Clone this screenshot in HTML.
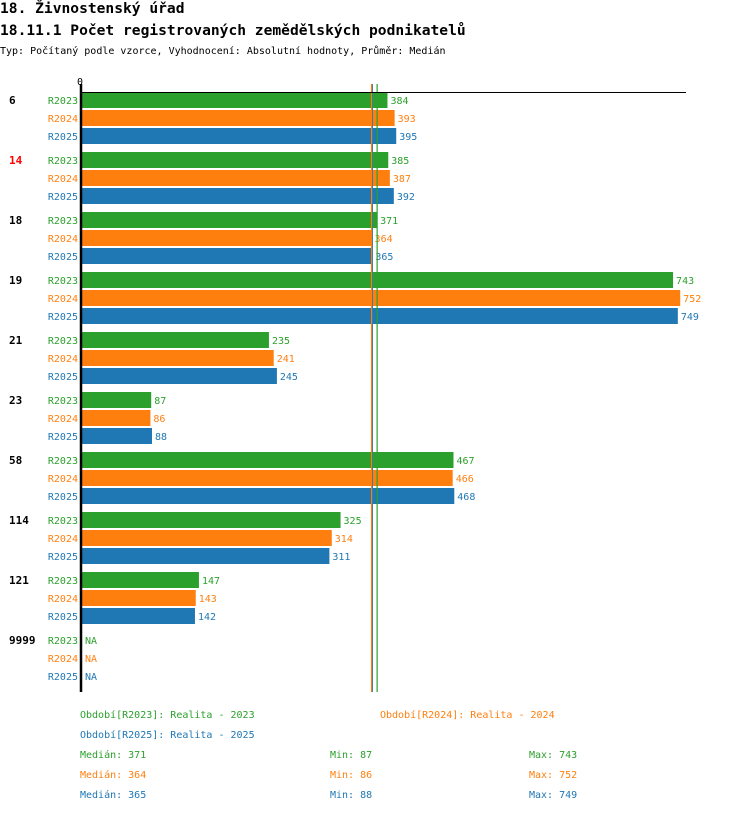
<!DOCTYPE html>
<html><head><meta charset="utf-8"><style>
body{margin:0;background:#fff;width:750px;height:812px;overflow:hidden;font-family:"Liberation Mono","DejaVu Sans Mono",monospace;}
svg text{font-family:"DejaVu Sans Mono","Liberation Mono",monospace;}
</style></head><body>
<svg id="chart" width="750" height="812" xmlns="http://www.w3.org/2000/svg">
<text x="0" y="13" font-size="14.6" font-weight="bold" fill="#000">18. Živnostenský úřad</text>
<text x="0" y="35" font-size="14.6" font-weight="bold" fill="#000">18.11.1 Počet registrovaných zemědělských podnikatelů</text>
<text x="0" y="54" font-size="10" fill="#000">Typ: Počítaný podle vzorce, Vyhodnocení: Absolutní hodnoty, Průměr: Medián</text>
<g id="plot"></g>
</svg>
<script>
const categories = ["6","14","18","19","21","23","58","114","121","9999"];
const highlighted = ["14"];
const seriesNames = ["R2023","R2024","R2025"];
const values2023 = [384,385,371,743,235,87,467,325,147,null];
const values2024 = [393,387,364,752,241,86,466,314,143,null];
const values2025 = [395,392,365,749,245,88,468,311,142,null];
const medians = [371,364,365];
const mins = [87,86,88];
const maxs = [743,752,749];
const colors = ["#2ca02c","#ff7f0e","#1f77b4"];
const series = [values2023, values2024, values2025];

const NS="http://www.w3.org/2000/svg";
const g=document.getElementById('plot');
const x0=82, scale=0.7955, top0=92, groupH=60, rowH=18, barH=16;
const xs=v=>x0+v*scale;
function mk(tag,attrs,text){const e=document.createElementNS(NS,tag);for(const k in attrs)e.setAttribute(k,attrs[k]);if(text!==undefined)e.textContent=text;g.appendChild(e);return e;}

categories.forEach((c,i)=>{
  const gy=top0+i*groupH;
  const lbl=mk('text',{x:9,y:gy+12,'font-size':11,'font-weight':'bold',fill:highlighted.includes(c)?'#ff0000':'#000'},c);
  
  
  series.forEach((s,j)=>{
    const y=gy+j*rowH;
    const sl=mk('text',{x:78,y:y+12,'font-size':10,fill:colors[j],'text-anchor':'end'},seriesNames[j]);
    
    
    const v=s[i];
    if(v!==null){
      const r=mk('rect',{x:x0,y:y,width:xs(v)-x0,height:barH,fill:colors[j]});
      
      
      const t=mk('text',{x:xs(v)+3,y:y+12,'font-size':10,fill:colors[j]},String(v));
      
      
    } else {
      const t=mk('text',{x:x0+3,y:y+12,'font-size':10,fill:colors[j]},'NA');
      
      
    }
  });
});
const bottom=top0+categories.length*groupH;
[2,0,1].forEach(j=>{
  const l=mk('line',{x1:xs(medians[j]),x2:xs(medians[j]),y1:84,y2:bottom,stroke:colors[j],'stroke-width':1.2});
  
  
});
const ax=mk('line',{x1:81,x2:81,y1:84,y2:bottom,stroke:'#000','stroke-width':2.5});


const tx=mk('line',{x1:80,x2:686,y1:92.5,y2:92.5,stroke:'#000','stroke-width':1});


const z=mk('text',{x:77,y:85,'font-size':10,fill:'#000'},'0');


const leg=[[80,718,0],[380,718,1],[80,738,2]];
leg.forEach(([x,y,j])=>{
  const t=mk('text',{x:x,y:y,'font-size':10,fill:colors[j]},'Období['+seriesNames[j]+']: Realita - '+seriesNames[j].slice(1));
  
  
});
for(let j=0;j<3;j++){
  const y=758+j*20;
  const a=mk('text',{x:80,y:y,'font-size':10,fill:colors[j]},'Medián: '+medians[j]);
  
  
  const b=mk('text',{x:330,y:y,'font-size':10,fill:colors[j]},'Min: '+mins[j]);
  
  
  const c=mk('text',{x:529,y:y,'font-size':10,fill:colors[j]},'Max: '+maxs[j]);
  
  
}
</script>
</body></html>
